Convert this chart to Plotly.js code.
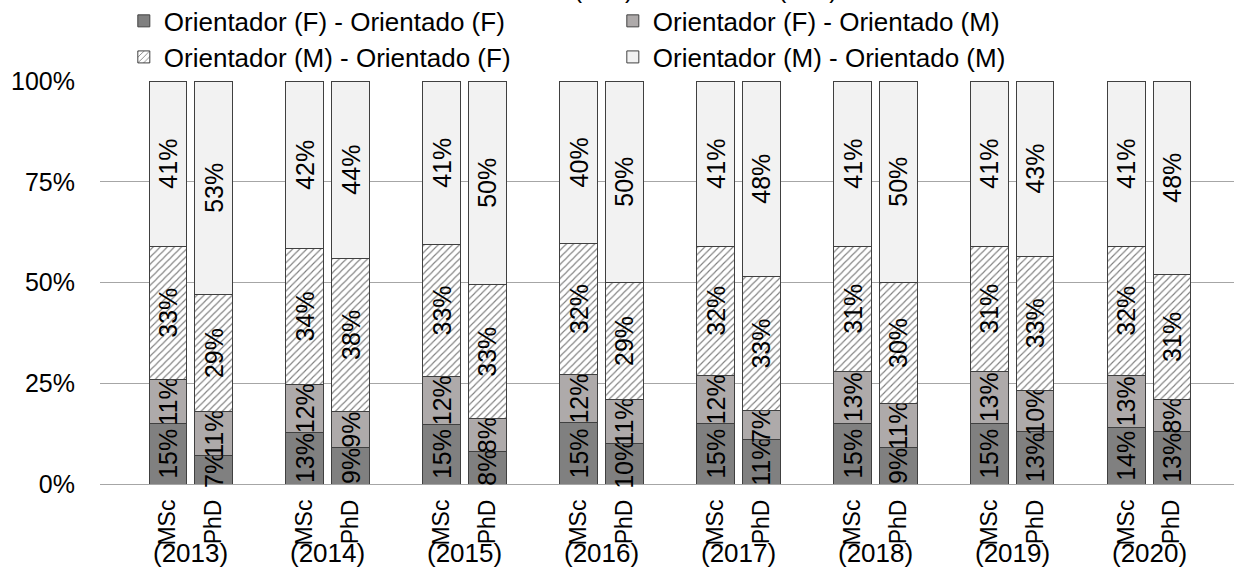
<!DOCTYPE html>
<html>
<head>
<meta charset="utf-8">
<script src="https://cdn.plot.ly/plotly-3.0.1.min.js"></script>
<style>html,body{margin:0;padding:0;background:#fff}#chart{width:1234px;height:567px}</style>
</head>
<body>
<div id="chart"></div>
<script>
const years = ["2013","2014","2015","2016","2017","2018","2019","2020"];
const levels = ["MSc","PhD"];
const seriesNames = ["Orientador (F) - Orientado (F)","Orientador (F) - Orientado (M)","Orientador (M) - Orientado (F)","Orientador (M) - Orientado (M)"];
// values per bar, order: 2013 MSc, 2013 PhD, 2014 MSc, 2014 PhD, ...
const ffValues = [15,7, 13,9, 15,8, 15,10, 15,11, 15,9, 15,13, 14,13];
const fmValues = [11,11, 12,9, 12,8, 12,11, 12,7, 13,11, 13,10, 13,8];
const mfValues = [33,29, 34,38, 33,33, 32,29, 32,33, 31,30, 31,33, 32,31];
const mmValues = [41,53, 42,44, 41,50, 40,50, 41,48, 41,50, 41,43, 41,48];
const titleText = "Orientador (F/M) e Orientado (F/M)";

const FONT = "Liberation Sans, Arial, sans-serif";
// slot layout: blank, MSc, PhD per year
const xPos = [], xText = [];
years.forEach((y, g) => levels.forEach((l, k) => { xPos.push(g*3 + 1 + k); xText.push(l); }));

const styles = [
  {color:"#808080"},
  {color:"#aeaaaa"},
  {color:"#ffffff", pattern:{shape:"/", bgcolor:"#ffffff", fgcolor:"#7f7f7f", size:5, solidity:0.22}},
  {color:"#f2f2f2"}
];
const allValues = [ffValues, fmValues, mfValues, mmValues];
const traces = allValues.map((vals, i) => ({
  type:"bar",
  name: seriesNames[i],
  x: xPos,
  y: vals,
  width: 0.83,
  text: vals.map(v => v + "%"),
  texttemplate: "%{text}",
  textposition: "inside",
  insidetextanchor: "middle",
  textangle: -90,
  constraintext: "none",
  cliponaxis: false,
  textfont: {family: FONT, size: 25, color: "#000"},
  hoverinfo: "skip",
  legend: i < 2 ? "legend" : "legend2",
  marker: Object.assign({line:{color:"#404040", width:1}}, styles[i])
}));

const annotations = years.map((y, g) => ({
  x: g*3 + 1.5, xref:"x", y: -0.172, yref:"paper",
  text: "(" + y + ")", showarrow:false, yanchor:"middle", xanchor:"center",
  font:{family:FONT, size:26, color:"#000"}
}));

const legendCommon = {
  orientation:"h", xref:"paper", yref:"paper", xanchor:"left", yanchor:"middle",
  font:{family:FONT, size:26, color:"#000"}, bgcolor:"rgba(0,0,0,0)",
  entrywidth: 444, entrywidthmode:"pixels", itemwidth:30, traceorder:"normal"
};

const layout = {
  width:1234, height:567,
  margin:{l:100, r:0, t:81, b:83, autoexpand:false},
  paper_bgcolor:"#fff", plot_bgcolor:"#fff",
  barmode:"stack", barnorm:"percent",
  title:{text:titleText, font:{family:FONT, size:25, color:"#000"},
         xref:"paper", x:0.479, xanchor:"center", yref:"container", y:1, yanchor:"bottom", pad:{b:2}},
  xaxis:{range:[-0.49, 24.36], tickvals:xPos, ticktext:xText, tickangle:-90,
         tickfont:{family:FONT, size:23, color:"#000"}, showgrid:false, zeroline:false,
         showline:false, ticks:"", ticklabelstandoff:10, fixedrange:true},
  yaxis:{range:[0,100], tickvals:[0,25,50,75,100], ticktext:["0%","25%","50%","75%","100%"],
         tickfont:{family:FONT, size:25, color:"#000"}, showgrid:true, gridcolor:"#a6a6a6", gridwidth:1,
         zeroline:true, zerolinecolor:"#a6a6a6", zerolinewidth:1, showline:false, ticks:"",
         ticklabelstandoff:24, fixedrange:true},
  legend: Object.assign({x:0.021, y:1.149}, legendCommon),
  legend2: Object.assign({x:0.021, y:1.0595}, legendCommon),
  annotations: annotations,
  showlegend:true
};
Plotly.newPlot("chart", traces, layout, {displayModeBar:false, staticPlot:true});
</script>
</body>
</html>
